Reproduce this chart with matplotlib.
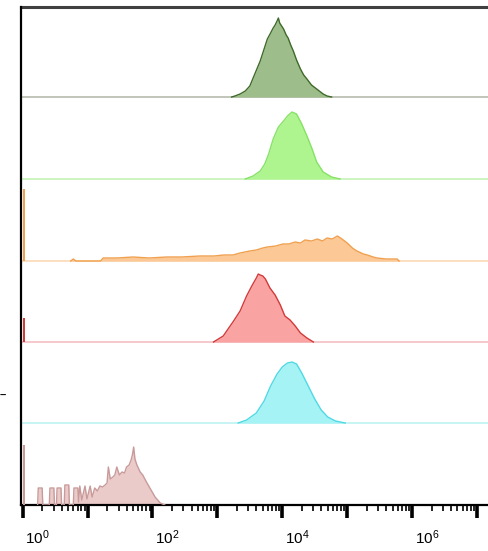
import numpy as np
import matplotlib
matplotlib.use("Agg")
import matplotlib.pyplot as plt
from matplotlib.ticker import LogLocator, FixedLocator, NullFormatter, FuncFormatter
from matplotlib.transforms import ScaledTranslation

plt.rcParams['font.family'] = ['Liberation Sans', 'DejaVu Sans']

# ---- data: log10(intensity) positions and histogram heights (px-scale counts) ----
row1_log = [3.22, 3.27, 3.35, 3.43, 3.50, 3.57, 3.66, 3.72, 3.77, 3.82, 3.86, 3.89, 3.92, 3.94,
            3.96, 3.99, 4.02, 4.06, 4.09, 4.13, 4.17, 4.22, 4.28, 4.33, 4.38, 4.45, 4.51, 4.57,
            4.63, 4.69, 4.76]
row1_cnt = [0, 1, 3, 6, 11, 22, 36, 48, 58, 64, 69, 72, 76, 79,
            74, 71, 68, 62, 59, 52, 46, 37, 28, 22, 18, 12, 9, 6, 3, 1, 0]

row2_log = [3.43, 3.55, 3.66, 3.73, 3.79, 3.86, 3.94, 4.02, 4.08, 4.15, 4.22, 4.30, 4.38,
            4.46, 4.53, 4.63, 4.76, 4.89]
row2_cnt = [0, 3, 8, 15, 25, 40, 52, 58, 63, 67, 65, 55, 43, 30, 17, 7, 2, 0]

row3_log = [0.74, 0.78, 0.82, 1.20, 1.24, 1.45, 1.70, 1.95, 2.22, 2.45, 2.73,
            2.95, 3.10, 3.24, 3.35, 3.50, 3.60, 3.70, 3.77, 3.90, 4.01, 4.10, 4.20, 4.28,
            4.35, 4.45, 4.54, 4.62, 4.69, 4.77, 4.85, 4.92, 5.00, 5.08, 5.15, 5.25, 5.31,
            5.40, 5.46, 5.60, 5.77, 5.80]
row3_cnt = [0, 2, 0, 0, 3, 3, 4, 3, 4, 4, 5,
            5, 6, 6, 8, 10, 11, 13, 14, 15, 17, 17, 19, 18,
            21, 20, 22, 20, 23, 22, 25, 22, 18, 13, 10, 7, 6,
            4, 3, 2, 2, 0]

row4_log = [2.94, 3.09, 3.25, 3.35, 3.45, 3.53, 3.60, 3.63, 3.66, 3.70, 3.74,
            3.81, 3.89, 3.97, 4.04, 4.12, 4.20, 4.28, 4.38, 4.48]
row4_cnt = [0, 6, 21, 31, 46, 56, 64, 68, 67, 66, 63,
            54, 47, 37, 26, 22, 16, 9, 4, 0]

row5_log = [3.32, 3.45, 3.60, 3.72, 3.82, 3.92, 4.00, 4.08, 4.15, 4.22, 4.30, 4.40, 4.50,
            4.60, 4.70, 4.82, 4.97]
row5_cnt = [0, 3, 10, 22, 37, 49, 56, 60, 61, 59, 50, 37, 24, 13, 6, 2, 0]

row6_log = [0.23, 0.24, 0.30, 0.31, 0.41, 0.42, 0.48, 0.49, 0.52, 0.53, 0.59, 0.60,
            0.64, 0.65, 0.71, 0.72, 0.78, 0.79, 0.85, 0.86, 0.88, 0.91, 0.96, 0.99, 1.04,
            1.07, 1.11, 1.15, 1.19, 1.23, 1.27, 1.30, 1.32, 1.35, 1.39, 1.42, 1.45, 1.49,
            1.53, 1.57, 1.60, 1.64, 1.67, 1.69, 1.71, 1.73, 1.76, 1.81, 1.85, 1.89, 1.96,
            2.04, 2.12, 2.19]
row6_cnt = [0, 17, 17, 0, 0, 17, 17, 0, 0, 17, 17, 0,
            0, 20, 20, 0, 0, 17, 17, 3, 19, 5, 19, 6, 19,
            8, 17, 14, 19, 18, 20, 22, 38, 26, 28, 30, 38, 30,
            33, 32, 38, 40, 45, 50, 58, 46, 40, 33, 30, 25, 17,
            8, 2, 0]

# events piled up at the lower bound of the scale (one spike per row)
edge_spike = [0, 0, 72, 24, 0, 60]

rows_log = [row1_log, row2_log, row3_log, row4_log, row5_log, row6_log]
rows_cnt = [row1_cnt, row2_cnt, row3_cnt, row4_cnt, row5_cnt, row6_cnt]
baselines = [408, 326, 244, 163, 82, 0]
fills = ['#9dbd8a', '#aef58f', '#fcc895', '#f9a3a3', '#a6f3f5', '#ebcaca']
edges = ['#3f6a2a', '#86e266', '#f0a04e', '#d33a3a', '#4fd9e3', '#c99a9a']
base_cols = ['#b7bcae', '#c5f2b5', '#fbd9b8', '#f5c0c4', '#bff2f2', None]

tick_labels = {0: '0', 2: '2', 4: '4', 6: '6'}

# ---- figure ----
fig = plt.figure(figsize=(4.88, 5.51), dpi=100)
ax = fig.add_axes([21 / 488, 46 / 551, 1 - 21 / 488, 498 / 551])
ax.set_xscale('log')
ax.set_xlim(10 ** -0.026, 10 ** 7.17)
ax.set_ylim(0, 498)

for lg, cnt, b, fc, ec, bc, sp in zip(rows_log, rows_cnt, baselines, fills, edges,
                                      base_cols, edge_spike):
    xv = np.power(10.0, np.array(lg))
    yv = np.array(cnt, dtype=float) + b
    if bc is not None:
        ax.axhline(b, color=bc, lw=1.2, zorder=1)
    ax.fill_between(xv, b, yv, color=fc, lw=0, zorder=2)
    ax.plot(xv, yv, color=ec, lw=1.0, zorder=3)
    if sp > 0:
        ax.fill_between([10 ** 0.0, 10 ** 0.035], b, b + sp, color=ec, lw=0, zorder=3)

ax.spines['right'].set_visible(False)
ax.spines['left'].set_linewidth(1.6)
ax.spines['bottom'].set_linewidth(1.6)
ax.spines['top'].set_linewidth(2.2)
ax.spines['top'].set_color('#404040')
ax.spines['left'].set_zorder(5)
ax.yaxis.set_visible(False)

ax.xaxis.set_major_locator(FixedLocator([10.0 ** k for k in range(0, 8)]))
ax.xaxis.set_minor_locator(LogLocator(base=10, subs=np.arange(2, 10), numticks=20))
ax.xaxis.set_minor_formatter(NullFormatter())


def fmt(v, pos):
    k = int(round(np.log10(v)))
    if k in tick_labels:
        return r'$\mathregular{10^{%s}}$' % tick_labels[k]
    return ''


ax.xaxis.set_major_formatter(FuncFormatter(fmt))
ax.tick_params(axis='x', which='major', direction='out', length=9, width=2.6,
               labelsize=11, pad=8, color='black')
ax.tick_params(axis='x', which='minor', direction='out', length=4.5, width=1.2, color='black')
offset = ScaledTranslation(15 / 100, 0, fig.dpi_scale_trans)
for lab in ax.xaxis.get_majorticklabels():
    lab.set_transform(lab.get_transform() + offset)

fig.text(0.0, 1 - 396 / 551, '\u2013', fontsize=8, fontweight='bold', va='center', ha='left')

fig.savefig('out.png', dpi=100)
